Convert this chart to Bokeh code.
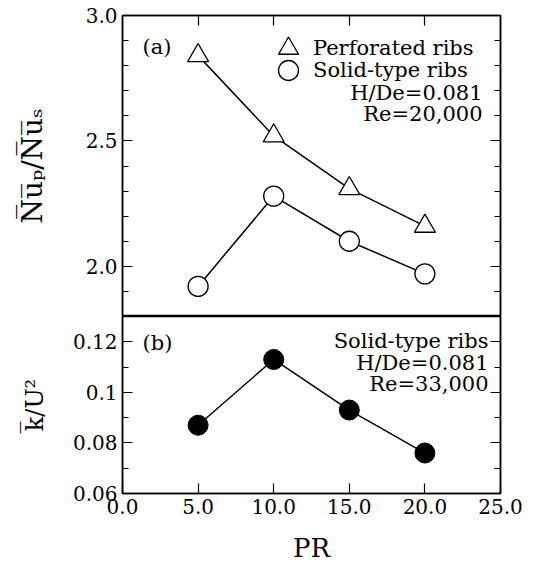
from bokeh.plotting import figure
from bokeh.models import LinearAxis, FixedTicker, Range1d, Legend, LegendItem, Label
from bokeh.layouts import column
from bokeh.embed import file_html
from bokeh.resources import INLINE

# ---- data ----
pr = [5.0, 10.0, 15.0, 20.0]
nu_ratio_perforated = [2.84, 2.52, 2.31, 2.16]
nu_ratio_solid = [1.92, 2.28, 2.10, 1.97]
k_over_u2_solid = [0.087, 0.113, 0.093, 0.076]

x_ticks = [0.0, 5.0, 10.0, 15.0, 20.0, 25.0]
x_tick_labels = ["0.0", "5.0", "10.0", "15.0", "20.0", "25.0"]
x_top_ticks = [5.0, 10.0, 15.0, 20.0]
top_y_ticks = [2.0, 2.5, 3.0]
top_y_tick_labels = ["2.0", "2.5", "3.0"]
top_y_minor = [1.8, 1.9, 2.1, 2.2, 2.3, 2.4, 2.6, 2.7, 2.8, 2.9]
bot_y_ticks = [0.06, 0.08, 0.10, 0.12]
bot_y_tick_labels = ["0.06", "0.08", "0.1", "0.12"]
bot_y_minor = [0.07, 0.09, 0.11]

FONT = "DejaVu Serif"
TICK_FS = "20px"
TEXT_FS = "21px"


def style_axis(ax, show_labels=True):
    ax.axis_line_color = "black"
    ax.axis_line_width = 1.5
    ax.major_tick_line_color = "black"
    ax.minor_tick_line_color = "black"
    ax.major_tick_line_width = 1.2
    ax.minor_tick_line_width = 1.2
    ax.major_tick_in = 10
    ax.major_tick_out = 0
    ax.minor_tick_in = 6
    ax.minor_tick_out = 0
    ax.major_label_text_font = FONT
    ax.axis_label_text_font = FONT
    ax.axis_label_text_font_style = "normal"
    ax.axis_label_text_color = "black"
    if show_labels:
        ax.major_label_text_color = "black"
        ax.major_label_text_font_size = TICK_FS
        ax.major_label_standoff = 5
    else:
        ax.major_label_text_color = None
        ax.major_label_text_font_size = "1px"
        ax.major_label_standoff = 0


def base_fig(height, y_range, x_range, top, bottom):
    p = figure(width=526, height=height, x_range=x_range, y_range=y_range,
               x_axis_location=None, y_axis_location=None,
               output_backend="svg", toolbar_location=None,
               min_border_left=122, min_border_right=26,
               min_border_top=top, min_border_bottom=bottom)
    p.xgrid.visible = False
    p.ygrid.visible = False
    p.outline_line_color = "black"
    p.outline_line_width = 1.5
    p.outline_line_alpha = 1.0
    p.background_fill_color = "white"
    p.border_fill_color = "white"
    return p


def marker_legend(label, renderer, loc):
    return Legend(items=[LegendItem(label=label, renderers=[renderer])],
                  location=loc, orientation="vertical",
                  label_text_font=FONT, label_text_font_size=TEXT_FS,
                  label_text_color="black",
                  label_standoff=0, glyph_width=50, glyph_height=50,
                  label_height=50, spacing=0, padding=0, margin=0,
                  border_line_color=None, background_fill_alpha=0)


# ---- top panel (a) ----
xr = Range1d(0, 25)
p1 = base_fig(316, Range1d(1.8, 3.0), xr, 15, 0)

left1 = LinearAxis(ticker=FixedTicker(ticks=top_y_ticks, minor_ticks=top_y_minor),
                   major_label_overrides=dict(zip(top_y_ticks, top_y_tick_labels)),
                   axis_label="N\u0305u\u0305\u209a/N\u0305u\u0305\u209b")
style_axis(left1)
left1.axis_label_text_font_size = "28px"
left1.axis_label_standoff = 34
p1.add_layout(left1, "left")

right1 = LinearAxis(ticker=FixedTicker(ticks=top_y_ticks, minor_ticks=top_y_minor))
style_axis(right1, show_labels=False)
p1.add_layout(right1, "right")

top1 = LinearAxis(ticker=FixedTicker(ticks=x_top_ticks, minor_ticks=[]))
style_axis(top1, show_labels=False)
p1.add_layout(top1, "above")

p1.line(pr, nu_ratio_perforated, line_color="black", line_width=1.5)
p1.line(pr, nu_ratio_solid, line_color="black", line_width=1.5)
tri = p1.scatter(pr, nu_ratio_perforated, marker="triangle", size=21,
                 fill_color="white", line_color="black", line_width=1.3)
circ = p1.scatter(pr, nu_ratio_solid, marker="circle", size=20,
                  fill_color="white", line_color="black", line_width=1.3)

p1.add_layout(marker_legend("Perforated ribs", tri, (141, 243)))
p1.add_layout(marker_legend("Solid-type ribs", circ, (141, 221)))

for txt, yy in [("H/De=0.081", 224), ("Re=20,000", 203)]:
    p1.add_layout(Label(x=360, y=yy, x_units="screen", y_units="screen", text=txt,
                        text_align="right", text_baseline="middle",
                        text_font=FONT, text_font_size=TEXT_FS, text_color="black"))
p1.add_layout(Label(x=20, y=270, x_units="screen", y_units="screen", text="(a)",
                    text_align="left", text_baseline="middle",
                    text_font=FONT, text_font_size=TEXT_FS, text_color="black"))

# ---- bottom panel (b) ----
p2 = base_fig(254, Range1d(0.06, 0.13), xr, 0, 77)

bottom2 = LinearAxis(ticker=FixedTicker(ticks=x_ticks, minor_ticks=[]),
                     major_label_overrides=dict(zip(x_ticks, x_tick_labels)),
                     axis_label="PR")
style_axis(bottom2)
bottom2.axis_label_text_font_size = "26px"
bottom2.axis_label_standoff = 16
p2.add_layout(bottom2, "below")

left2 = LinearAxis(ticker=FixedTicker(ticks=bot_y_ticks, minor_ticks=bot_y_minor),
                   major_label_overrides=dict(zip(bot_y_ticks, bot_y_tick_labels)),
                   axis_label="k\u0305/U\u00b2")
style_axis(left2)
left2.axis_label_text_font_size = "24px"
left2.axis_label_standoff = 21
p2.add_layout(left2, "left")

right2 = LinearAxis(ticker=FixedTicker(ticks=bot_y_ticks, minor_ticks=bot_y_minor))
style_axis(right2, show_labels=False)
p2.add_layout(right2, "right")

p2.line(pr, k_over_u2_solid, line_color="black", line_width=1.5)
p2.scatter(pr, k_over_u2_solid, marker="circle", size=20,
           fill_color="black", line_color="black")

p2.add_layout(Label(x=20, y=151, x_units="screen", y_units="screen", text="(b)",
                    text_align="left", text_baseline="middle",
                    text_font=FONT, text_font_size=TEXT_FS, text_color="black"))
for txt, yy in [("Solid-type ribs", 153), ("H/De=0.081", 131), ("Re=33,000", 110)]:
    p2.add_layout(Label(x=366, y=yy, x_units="screen", y_units="screen", text=txt,
                        text_align="right", text_baseline="middle",
                        text_font=FONT, text_font_size=TEXT_FS, text_color="black"))

layout = column(p1, p2, spacing=0)
open("out.html", "w").write(file_html(layout, INLINE))
